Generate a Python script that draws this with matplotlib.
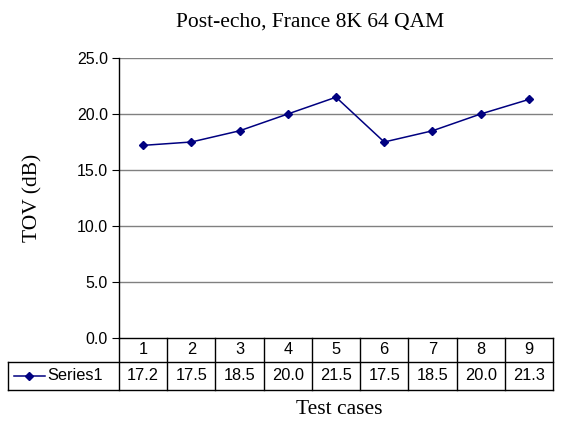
import matplotlib
matplotlib.use("Agg")
import matplotlib.pyplot as plt
from matplotlib.lines import Line2D

categories = ["1", "2", "3", "4", "5", "6", "7", "8", "9"]
values = [17.2, 17.5, 18.5, 20.0, 21.5, 17.5, 18.5, 20.0, 21.3]
series_name = "Series1"
yticks = [0.0, 5.0, 10.0, 15.0, 20.0, 25.0]

W, H = 563, 421
fig = plt.figure(figsize=(W / 100, H / 100), dpi=100)
L, R, T, B = 119, 553, 58, 338
ax = fig.add_axes([L / W, 1 - B / H, (R - L) / W, (B - T) / H])

xs = list(range(1, len(values) + 1))
ax.plot(xs, values, color="#000080", marker="D", markersize=4.5, linewidth=1.1)
ax.set_xlim(0.5, len(values) + 0.5)
ax.set_ylim(0, 25)
ax.set_yticks(yticks)
ax.set_yticklabels([f"{v:.1f}" for v in yticks], fontsize=11.5, family="Liberation Sans")
ax.set_xticks([])
ax.tick_params(axis="y", length=5, direction="out", width=0.8, pad=3)
for y in yticks[1:]:
    ax.axhline(y, color="#808080", linewidth=1.0, zorder=0)
for s in ["top", "right", "bottom"]:
    ax.spines[s].set_visible(False)
ax.spines["left"].set_color("black")
ax.spines["left"].set_linewidth(1.0)

# data table below the axis (in axes coordinates)
ph = B - T
pw = R - L
r1 = -24 / ph
r2 = -52 / ph
leg_left = (8 - L) / pw
tr = ax.transAxes
kw = dict(transform=tr, color="black", linewidth=1.0, clip_on=False)
ax.add_line(Line2D([0, 1], [0, 0], **kw))
ax.add_line(Line2D([leg_left, 1], [r1, r1], **kw))
ax.add_line(Line2D([leg_left, 1], [r2, r2], **kw))
ax.add_line(Line2D([leg_left, leg_left], [r1, r2], **kw))
ax.add_line(Line2D([0, 0], [0, r2], **kw))
n = len(values)
for i in range(1, n + 1):
    xe = i / n
    ax.add_line(Line2D([xe, xe], [0, r2], **kw))
for i, (c, v) in enumerate(zip(categories, values)):
    xc = (i + 0.5) / n
    ax.text(xc, r1 / 2, c, transform=tr, ha="center", va="center", fontsize=11.8,
            family="Liberation Sans")
    ax.text(xc, (r1 + r2) / 2, f"{v:.1f}", transform=tr, ha="center", va="center",
            fontsize=11.8, family="Liberation Sans")
# legend key in table
ym = (r1 + r2) / 2
kx0 = (14 - L) / pw
kx1 = (45 - L) / pw
ax.add_line(Line2D([kx0, kx1], [ym, ym], transform=tr, color="#000080", linewidth=1.1,
                   clip_on=False))
ax.add_line(Line2D([(kx0 + kx1) / 2], [ym], transform=tr, color="#000080", marker="D",
                   markersize=4.5, clip_on=False, linestyle="none"))
ax.text((47 - L) / pw, ym, series_name, transform=tr, ha="left", va="center",
        fontsize=11.8, family="Liberation Sans")

fig.text(310 / W, 1 - 22 / H, "Post-echo, France 8K 64 QAM", ha="center", va="center",
         fontsize=15.5, family="Liberation Serif")
fig.text(339 / W, 1 - 410 / H, "Test cases", ha="center", va="center",
         fontsize=15.5, family="Liberation Serif")
fig.text(33 / W, 1 - 198 / H, "TOV (dB)", ha="center", va="center", rotation=90,
         fontsize=15.5, family="Liberation Serif")

fig.savefig("out.png", dpi=100)
